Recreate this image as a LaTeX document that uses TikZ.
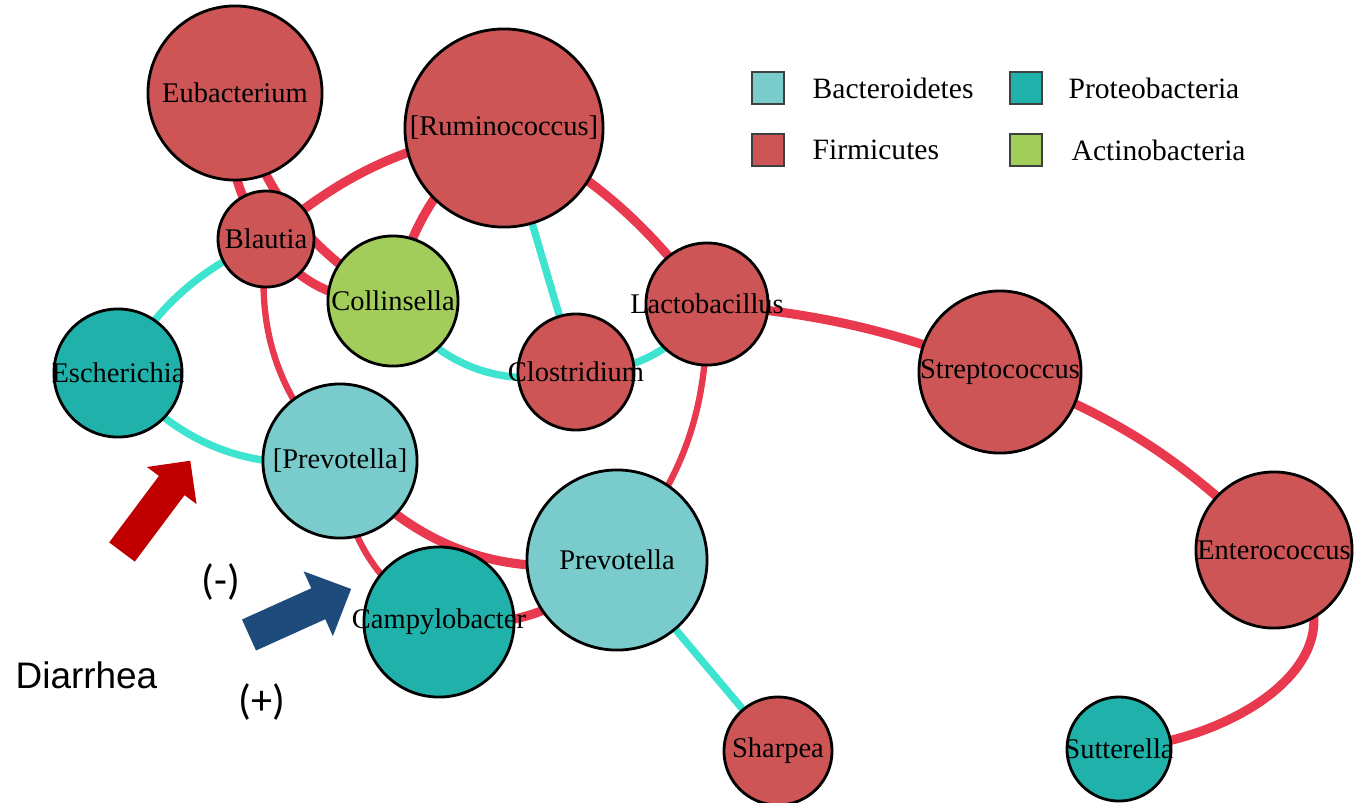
\documentclass[tikz,border=0pt]{standalone}
\usepackage{fontspec}
\setmainfont{Liberation Serif}
\newfontfamily\arialfont{Liberation Sans}
\newfontfamily\califont{Carlito}
\pgfdeclarelayer{links}
\pgfsetlayers{links,main}

\begin{document}
\begin{tikzpicture}[x=0.01cm,y=-0.01cm,
  posedge/.style={draw=poslink,line width=2.6pt},
  posthin/.style={draw=poslink,line width=1.8pt},
  negedge/.style={draw=neglink,line width=2.1pt},
  keybox/.style={draw=black!75,line width=0.6pt,minimum size=0.32cm,inner sep=0pt},
  keytext/.style={anchor=west,inner sep=0pt,font=\fontsize{8.4}{10}\selectfont}]

\definecolor{bact}{HTML}{7ACCCC}
\definecolor{firm}{HTML}{CD5555}
\definecolor{prot}{HTML}{20B2AA}
\definecolor{acti}{HTML}{A2CD5A}
\definecolor{poslink}{HTML}{E8394F}
\definecolor{neglink}{HTML}{3FE4D0}
\definecolor{minusred}{HTML}{C00000}
\definecolor{plusblue}{HTML}{1F4A7C}

\newcommand{\genus}[6] % [name][x][y][r][fill][label]
{
 \node[circle,draw=black,line width=0.8pt,fill=#5,inner sep=0pt,
   minimum size={#4*0.02cm},
   label={[name=#1-t,font=\fontsize{8.1}{9.7}\selectfont,text=black]center:{#6}}]
   (#1) at (#2,#3) {};
}

\newcommand{\fatarrow}[5] % [color][len][shaft][head][headlen]
{
 \fill[#1] (0,{-#3/2}) -- ({#2-#5},{-#3/2}) -- ({#2-#5},{-#4/2}) -- (#2,0)
   -- ({#2-#5},{#4/2}) -- ({#2-#5},{#3/2}) -- (0,{#3/2}) -- cycle;
}

\useasboundingbox (0,0) rectangle (1357,802);

\genus{eub}{235}{93}{87}{firm}{Eubacterium}
\genus{rum}{504}{128}{99}{firm}{[Ruminococcus]}
\genus{bla}{266}{239}{48}{firm}{Blautia}
\genus{col}{393}{301}{65}{acti}{Collinsella}
\genus{lac}{707}{304}{61}{firm}{Lactobacillus}
\genus{clo}{576}{372}{58}{firm}{Clostridium}
\genus{esc}{118}{373}{64}{prot}{Escherichia}
\genus{str}{1000}{372}{81}{firm}{Streptococcus}
\genus{pvb}{340}{461}{77}{bact}{[Prevotella]}
\genus{pre}{617}{560}{90}{bact}{Prevotella}
\genus{cam}{439}{622}{75}{prot}{Campylobacter}
\genus{ent}{1274}{550}{78}{firm}{Enterococcus}
\genus{sha}{778}{751}{54}{firm}{Sharpea}
\genus{sut}{1119}{749}{52}{prot}{Sutterella}

\begin{pgfonlayer}{links}
 \fill[white] (0,0) rectangle (1357,802);
 % positive
 \draw[posedge] (eub.center) to[bend right=22] (bla.center);
 \draw[posedge] (eub.center) to[bend right=22] (col.center);
 \draw[posedge] (bla.center) to[bend right=28] (col.center);
 \draw[posedge] (bla.center) to[bend left=15] (rum.center);
 \draw[posedge] (rum.center) to[bend right=20] (col.center);
 \draw[posedge] (rum.center) to[bend left=12] (lac.center);
 \draw[posedge] (lac.center) to[bend left=8] (str.center);
 \draw[posthin] (lac.center) to[bend left=20] (pre.center);
 \draw[posthin] (bla.center) to[bend right=25] (pvb.center);
 \draw[posedge] (pvb.center) to[bend right=30] (pre.center);
 \draw[posthin] (pvb.center) to[bend right=28] (cam.center);
 \draw[posedge] (cam.center) to[bend right=25] (pre.center);
 \draw[posedge] (str.center) to[bend left=12] (ent.center);
 \draw[posedge] (ent.center) to[out=-40,in=5,looseness=1.4] (sut.center);
 % negative
 \draw[negedge] (bla.center) to[bend right=17] (esc.center);
 \draw[negedge] (esc.center) to[bend right=28] (pvb.center);
 \draw[negedge] (rum.center) -- (clo.center);
 \draw[negedge] (col.center) to[bend right=35] (clo.center);
 \draw[negedge] (clo.center) to[bend right=28] (lac.center);
 \draw[negedge] (pre.center) -- (sha.center);
\end{pgfonlayer}

% legend
\node[keybox,fill=bact] (k1) at (768,88) {};
\node[keytext] (k1t) at (812,88) {Bacteroidetes};
\node[keybox,fill=firm] (k2) at (768,150) {};
\node[keytext] (k2t) at (812,150) {Firmicutes};
\node[keybox,fill=prot] (k3) at (1026,88) {};
\node[keytext] (k3t) at (1068,88) {Proteobacteria};
\node[keybox,fill=acti] (k4) at (1026,150) {};
\node[keytext] (k4t) at (1071,150) {Actinobacteria};

\begin{scope}[shift={(122,552)},rotate=53.2] %minus
 \fatarrow{minusred}{114}{32}{62}{31}
\end{scope}

\begin{scope}[shift={(249,635)},rotate=24.3] %plus
 \fatarrow{plusblue}{112}{34}{71}{36}
\end{scope}

\node[inner sep=0pt,font=\califont\fontsize{12}{14}\selectfont] (minus) at (221,582) {(-)};
\node[inner sep=0pt,font=\califont\fontsize{12}{14}\selectfont] (plus) at (262,702) {(+)};
\node[inner sep=0pt,anchor=west,font=\arialfont\fontsize{10.5}{12.6}\selectfont] (diar) at (15,675) {Diarrhea};

\end{tikzpicture}
\end{document}
